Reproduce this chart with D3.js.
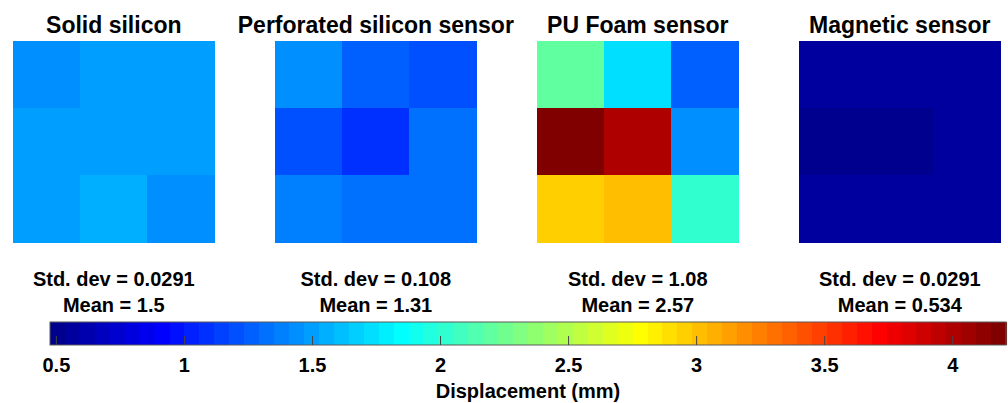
<!DOCTYPE html>
<html>
<head>
<meta charset="utf-8">
<script src="https://cdn.jsdelivr.net/npm/d3@7"></script>
<style>
  body { margin: 0; background: #fff; }
  text { font-family: Arial, "Liberation Sans", sans-serif; font-weight: bold; fill: #000; }
</style>
</head>
<body>
<div id="chart"></div>
<script>
// Displacement maps, 3x3 grid per sensor (row-major, top row first)
var sensors = [ "Solid silicon", "Perforated silicon sensor", "PU Foam sensor", "Magnetic sensor" ];

var solidSilicon = [ 1.46, 1.51, 1.51,
                     1.49, 1.49, 1.49,
                     1.49, 1.55, 1.46 ];
var perforatedSilicon = [ 1.46, 1.29, 1.23,
                          1.21, 1.11, 1.33,
                          1.40, 1.31, 1.34 ];
var puFoam = [ 2.20, 1.75, 1.27,
               4.21, 4.00, 1.44,
               2.97, 3.02, 2.00 ];
var magnetic = [ 0.55, 0.55, 0.55,
                 0.477, 0.49, 0.55,
                 0.55, 0.55, 0.55 ];

var stdLabels = [ "0.0291", "0.108", "1.08", "0.0291" ];
var meanLabels = [ "1.5", "1.31", "2.57", "0.534" ];

var colorTicks = [ 0.5, 1, 1.5, 2, 2.5, 3, 3.5, 4 ];

var grids = [ solidSilicon, perforatedSilicon, puFoam, magnetic ];

// MATLAB jet(64)
function jet( m )
{
    var n = Math.ceil( m / 4 ), u = [], out = [];
    for ( var k = 1; k <= n; k++ ) u.push( k / n );
    for ( var k = 1; k < n; k++ ) u.push( 1 );
    for ( var k = n; k >= 1; k-- ) u.push( k / n );
    var J = d3.range( m ).map( function() { return [ 0, 0, 0 ]; } );
    var g0 = Math.ceil( n / 2 ) - ( m % 4 == 1 ? 1 : 0 );
    u.forEach( function( v, k )
    {
        var g = g0 + k + 1, r = g + n, b = g - n;
        if ( r <= m ) J[ r - 1 ][ 0 ] = v;
        if ( g <= m ) J[ g - 1 ][ 1 ] = v;
        if ( b > 0 ) J[ b - 1 ][ 2 ] = v;
    } );
    J.forEach( function( c ) { out.push( d3.rgb( c[0] * 255, c[1] * 255, c[2] * 255 ).toString() ); } );
    return out;
}

var W = 1008, H = 403;
var svg = d3.select( "#chart" ).append( "svg" )
    .attr( "width", W )
    .attr( "height", H );

var allValues = d3.merge( grids );
var clim = d3.extent( allValues );
var colors = jet( 64 );
var color = d3.scaleQuantize().domain( clim ).range( colors );

// panel placement
var cell = 201;
var panelX = d3.scaleLinear().domain( [ 0, 3 ] ).range( [ 13.3, 799.3 ] );
var panelTop = 41;
var band = d3.scaleBand().domain( [ 0, 1, 2 ] ).range( [ 0, cell ] );

sensors.forEach( function( name, p )
{
    var g = svg.append( "g" )
        .attr( "transform", "translate(" + panelX( p ) + "," + panelTop + ")" )
        .attr( "shape-rendering", "crispEdges" );

    g.selectAll( "rect" )
        .data( grids[ p ] )
        .enter().append( "rect" )
        .attr( "x", function( d, i ) { return band( i % 3 ); } )
        .attr( "y", function( d, i ) { return band( Math.floor( i / 3 ) ); } )
        .attr( "width", band.bandwidth() + 0.5 )
        .attr( "height", band.bandwidth() + 0.5 )
        .attr( "fill", function( d ) { return color( d ); } );

    var cx = panelX( p ) + cell / 2;
    svg.append( "text" )
        .attr( "x", cx ).attr( "y", 33.3 )
        .attr( "text-anchor", "middle" )
        .style( "font-size", "23px" )
        .text( name );

    svg.append( "text" )
        .attr( "x", cx ).attr( "y", 285.7 )
        .attr( "text-anchor", "middle" )
        .style( "font-size", "20px" )
        .text( "Std. dev = " + stdLabels[ p ] );

    svg.append( "text" )
        .attr( "x", cx ).attr( "y", 311.7 )
        .attr( "text-anchor", "middle" )
        .style( "font-size", "20px" )
        .text( "Mean = " + meanLabels[ p ] );
} );

// colorbar
var cbTop = 322, cbH = 23;
var cbX = d3.scaleLinear().domain( clim ).range( [ 50, 1006 ] );
var step = ( clim[1] - clim[0] ) / colors.length;

svg.append( "g" )
    .attr( "shape-rendering", "crispEdges" )
    .selectAll( "rect" )
    .data( colors )
    .enter().append( "rect" )
    .attr( "x", function( d, i ) { return cbX( clim[0] + i * step ); } )
    .attr( "y", cbTop )
    .attr( "width", function( d, i ) { return cbX( clim[0] + ( i + 1 ) * step ) - cbX( clim[0] + i * step ) + 0.5; } )
    .attr( "height", cbH )
    .attr( "fill", function( d ) { return d; } );

svg.append( "rect" )
    .attr( "x", 50 ).attr( "y", cbTop )
    .attr( "width", 956 ).attr( "height", cbH )
    .attr( "fill", "none" )
    .attr( "stroke", "#5a5a5a" )
    .attr( "stroke-width", 1 );

var axis = svg.append( "g" )
    .attr( "transform", "translate(0," + ( cbTop + cbH ) + ")" )
    .call( d3.axisTop( cbX ).tickValues( colorTicks ).tickSize( 9 ).tickFormat( d3.format( "" ) ) );
axis.select( ".domain" ).remove();
axis.selectAll( ".tick line" ).attr( "stroke", "#444" );
axis.selectAll( ".tick text" )
    .attr( "y", 0 )
    .attr( "dy", 0 )
    .attr( "transform", "translate(0," + ( 372 - cbTop - cbH ) + ")" )
    .style( "font-size", "20px" )
    .style( "font-family", "Arial, 'Liberation Sans', sans-serif" )
    .style( "font-weight", "bold" )
    .attr( "fill", "#000" );

svg.append( "text" )
    .attr( "x", ( 50 + 1006 ) / 2 ).attr( "y", 398 )
    .attr( "text-anchor", "middle" )
    .style( "font-size", "20px" )
    .text( "Displacement (mm)" );
</script>
</body>
</html>
